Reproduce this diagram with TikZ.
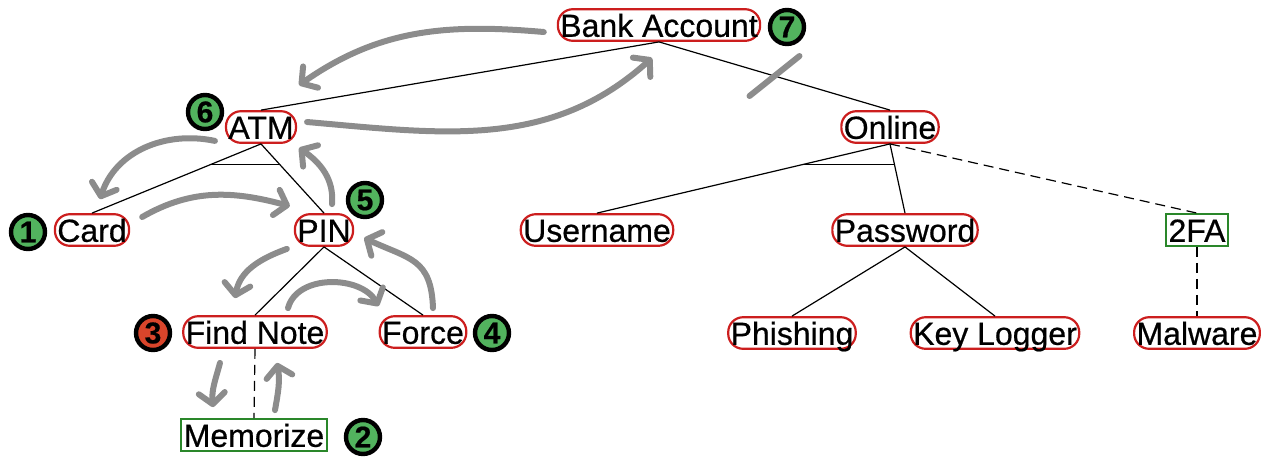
\documentclass[tikz,border=0pt]{standalone}
\usepackage{fontspec}
\setmainfont{Liberation Sans}[FakeBold=0.6]
\usetikzlibrary{arrows.meta}
\definecolor{attackred}{HTML}{CC1E1E}
\definecolor{defensegreen}{HTML}{2A872A}
\definecolor{badgegreen}{HTML}{52B35E}
\definecolor{badgered}{HTML}{D9452B}
\definecolor{flowgray}{HTML}{8C8C8C}
\tikzset{
    attack-node/.style = {draw=attackred, fill=white, line width=1.1pt, rectangle, rounded corners=7.5pt, inner xsep=1.2pt, inner ysep=2pt, text height=11.8pt, text depth=0pt, font=\fontsize{16}{18}\selectfont},
    defense-node/.style = {attack-node, draw=defensegreen, sharp corners},
    step-badge/.style = {circle, draw=black, line width=2.2pt, fill=badgegreen, minimum size=17pt, inner sep=0pt, font=\bfseries\fontsize{15}{15}\selectfont},
    tree-edge/.style = {line width=0.6pt},
    flow-arrow/.style = {draw=flowgray, line width=3pt, line cap=round, -{Straight Barb[length=5.5pt,width=13pt,round]}},
}

\begin{document}
\begin{tikzpicture}[x=0.5pt, y=-0.5pt]
\useasboundingbox (0,0) rectangle (1271,457);

% attack tree
\node[attack-node] (bank) at (659,25) {Bank Account};
\node[attack-node] (atm) at (261,127) {ATM};
\node[attack-node] (online) at (890,127) {Online};
\node[attack-node] (card) at (92,230) {Card};
\node[attack-node] (pin) at (324,230) {PIN};
\node[attack-node] (user) at (597,230) {Username};
\node[attack-node] (pass) at (905,230) {Password};
\node[defense-node] (tfa) at (1197,230) {2FA};
\node[attack-node] (note) at (255,332) {Find Note};
\node[attack-node] (force) at (423,332) {Force};
\node[attack-node] (phish) at (792,333) {Phishing};
\node[attack-node] (keylog) at (995,333) {Key Logger};
\node[attack-node] (malware) at (1197,333) {Malware};
\node[defense-node] (memo) at (254,435) {Memorize};

\draw[tree-edge] (bank.south) -- (atm.north);
\draw[tree-edge] (bank.south) -- coordinate[pos=.5] (cut) (online.north);
\draw[tree-edge] (atm.south) -- coordinate[pos=.3] (atm-and-l) (card.north);
\draw[tree-edge] (atm.south) -- coordinate[pos=.3] (atm-and-r) (pin.north);
\draw[tree-edge] (atm-and-l) -- (atm-and-r);
\draw[tree-edge] (online.south) -- coordinate[pos=.3] (online-and-l) (user.north);
\draw[tree-edge] (online.south) -- coordinate[pos=.3] (online-and-r) (pass.north);
\draw[tree-edge] (online-and-l) -- (online-and-r);
\draw[tree-edge, dashed, dash pattern=on 5pt off 3pt] (online.south) -- (tfa.north);
\draw[tree-edge] (pin.south) -- (note.north);
\draw[tree-edge] (pin.south) -- (force.north);
\draw[tree-edge, dashed, dash pattern=on 5pt off 3pt] (note.south) -- (memo.north);
\draw[tree-edge] (pass.south) -- (phish.north);
\draw[tree-edge] (pass.south) -- (keylog.north);
\draw[tree-edge, dashed, dash pattern=on 5pt off 3pt] (tfa.south) -- (malware.north);

% steps of the attack
\node[step-badge] (s1) at (28,232) {1};
\node[step-badge] (s2) at (363,437) {2};
\node[step-badge, fill=badgered] (s3) at (153,333) {3};
\node[step-badge] (s4) at (492,333) {4};
\node[step-badge] (s5) at (365,200) {5};
\node[step-badge] (s6) at (205,112) {6};
\node[step-badge] (s7) at (787,27) {7};

\draw[flow-arrow] ([shift={(-13,7)}]bank.west) to[out=175,in=35] ([shift={(2,-25)}]atm.north east);
\draw[flow-arrow] ([shift={(10,-5)}]atm.east) to[out=-5,in=222] ([shift={(-7,16)}]bank.south);
\draw[flow-arrow] ([shift={(-10,-3)}]atm.south west) to[out=168,in=72] ([shift={(8,-14)}]card.north);
\draw[flow-arrow] ([shift={(12,-13)}]card.east) to[out=30,in=165] ([shift={(-4,-7)}]pin.north west);
\draw[flow-arrow] ([shift={(8,-9)}]pin.north) to[out=85,in=-35] ([shift={(2,4)}]atm.south east);
\draw[flow-arrow] ([shift={(-7,2)}]pin.south west) to[out=200,in=80] ([shift={(-20,-17)}]note.north);
\draw[flow-arrow] ([shift={(33,-7)}]note.north) to[out=75,in=120] ([shift={(0,-9)}]force.north west);
\draw[flow-arrow] ([shift={(10,-7)}]force.north) to[out=92,in=-25,looseness=1.3] ([shift={(10,8)}]pin.east);
\draw[flow-arrow] ([shift={(-35,14)}]note.south) to[out=255,in=95] ([shift={(-41,-11)}]memo.north);
\draw[flow-arrow] ([shift={(21,-8)}]memo.north) to[out=80,in=280] ([shift={(22,14)}]note.south);
\draw[draw=flowgray, line width=3pt, line cap=round] ([shift={(25,-20)}]cut) -- ([shift={(-25,20)}]cut);
\end{tikzpicture}
\end{document}
